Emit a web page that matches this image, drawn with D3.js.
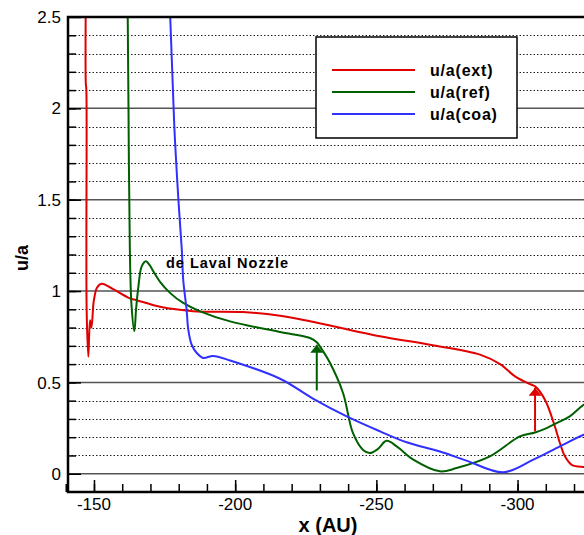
<!DOCTYPE html>
<html>
<head>
<meta charset="utf-8">
<script src="https://d3js.org/d3.v7.min.js"></script>
<style>
  body { margin: 0; background: #fff; }
  svg { display: block; font-family: 'Liberation Sans', Arial, Helvetica, sans-serif; }
  .minor { stroke: #222; stroke-width: 1; stroke-dasharray: 1.5,2; }
  .major { stroke: #555; stroke-width: 1.5; }
  .curve { fill: none; stroke-width: 2; }
</style>
</head>
<body>
<svg width="584" height="535"></svg>
<script>
var svg = d3.select('svg');

// u/a along the x axis (AU)
var extData = [
  [-147.1, 2.6], [-147.1, 2.14], [-147.3, 2.10], [-147.4, 0.90], [-148.0, 0.64],
  [-148.6, 0.84], [-149.1, 0.80], [-149.8, 0.93], [-150.2, 0.97], [-151.0, 1.017],
  [-152.7, 1.04], [-156.8, 1.01], [-162.7, 0.96], [-165.1, 0.95], [-173.4, 0.914],
  [-185.1, 0.89], [-202.8, 0.885], [-215.9, 0.865], [-226.5, 0.835], [-251.3, 0.752],
  [-269.0, 0.706], [-286.7, 0.652], [-293.8, 0.60], [-299.1, 0.533], [-304.4, 0.49],
  [-306.2, 0.478], [-309.7, 0.405], [-313.2, 0.26], [-315.0, 0.168], [-316.8, 0.095],
  [-319.2, 0.049], [-323.5, 0.037], [-330, 0.035]
];

var refData = [
  [-161.9, 2.6], [-162.2, 2.05], [-162.7, 1.23], [-163.3, 0.92], [-164.3, 0.78],
  [-164.9, 0.90], [-165.7, 1.02], [-166.9, 1.135], [-168.4, 1.163], [-169.8, 1.14],
  [-171.0, 1.108], [-173.4, 1.05], [-176.9, 0.99], [-181.6, 0.935], [-187.6, 0.889],
  [-198.2, 0.834], [-215.9, 0.776], [-226.5, 0.743], [-228.9, 0.72], [-230.0, 0.697],
  [-233.6, 0.606], [-238.2, 0.442], [-241.7, 0.223], [-245.3, 0.13], [-247.7, 0.113],
  [-250.5, 0.135], [-253.6, 0.18], [-257.2, 0.15], [-263.1, 0.077], [-272.5, 0.013],
  [-278.4, 0.031], [-290.2, 0.095], [-300.8, 0.204], [-306.2, 0.226], [-310.3, 0.25],
  [-314.0, 0.278], [-318.5, 0.314], [-323.5, 0.378], [-330, 0.43]
];

var coaData = [
  [-176.7, 2.6], [-177.0, 2.5], [-178.2, 2.0], [-178.7, 1.82], [-179.9, 1.50],
  [-181.1, 1.227], [-181.6, 1.062], [-182.8, 0.898], [-183.4, 0.789], [-184.6, 0.706],
  [-186.4, 0.661], [-188.7, 0.634], [-192.2, 0.645], [-198.2, 0.62], [-215.9, 0.52],
  [-227.7, 0.41], [-239.5, 0.314], [-251.3, 0.232], [-260.7, 0.172], [-272.5, 0.122],
  [-281.9, 0.072], [-294.9, 0.008], [-305.6, 0.077], [-315.0, 0.15], [-323.5, 0.214],
  [-330, 0.245]
];

var seriesNames = ['u/a(ext)', 'u/a(ref)', 'u/a(coa)'];
var seriesColors = ['#e00000', '#006000', '#3030ff'];

// arrows: [x, yFrom, yTo]
var arrowData = [[-306.2, 0.232, 0.47], [-228.9, 0.456, 0.706]];
var arrowColors = ['#e00000', '#006000'];

var xMajor = [-150, -200, -250, -300];
var xMinor = d3.range(-140, -331, -10);
var yMajor = [0, 0.5, 1, 1.5, 2, 2.5];
var yMinor = d3.range(1, 25).map(function(d) { return d / 10; });

var plot = {left: 68, top: 17, right: 600, bottom: 492};

var x = d3.scaleLinear().domain([-140.8, -329.2]).range([plot.left, plot.right]);
var y = d3.scaleLinear().domain([-0.1, 2.5]).range([plot.bottom, plot.top]);

svg.append('defs')
  .append('clipPath')
  .attr('id', 'plot-clip')
  .append('rect')
  .attr('x', plot.left)
  .attr('y', plot.top)
  .attr('width', plot.right - plot.left)
  .attr('height', plot.bottom - plot.top);

arrowColors.forEach(function(c, i) {
  svg.select('defs')
    .append('marker')
    .attr('id', 'arrow-' + i)
    .attr('viewBox', '0 0 10 10')
    .attr('refX', 10)
    .attr('refY', 5)
    .attr('markerUnits', 'userSpaceOnUse')
    .attr('markerWidth', 8)
    .attr('markerHeight', 13)
    .attr('orient', 'auto')
    .attr('preserveAspectRatio', 'none')
    .append('path')
    .attr('d', 'M0,0L10,5L0,10Z')
    .attr('fill', c);
});

/* ---
GRID
--- */
svg.append('g')
  .selectAll('line')
  .data(yMinor.filter(function(d) { return Math.round(d * 10) % 5 !== 0; }))
  .enter()
  .append('line')
  .attr('class', 'minor')
  .attr('x1', plot.left)
  .attr('x2', plot.right)
  .attr('y1', function(d) { return Math.round(y(d)) + 0.5; })
  .attr('y2', function(d) { return Math.round(y(d)) + 0.5; });

svg.append('g')
  .selectAll('line')
  .data(yMajor.slice(0, -1))
  .enter()
  .append('line')
  .attr('class', 'major')
  .attr('x1', plot.left)
  .attr('x2', plot.right)
  .attr('y1', function(d) { return y(d); })
  .attr('y2', function(d) { return y(d); });

/* ---
AXES
--- */
var yAxis = d3.axisRight(y).tickValues(yMajor).tickSize(13).tickFormat('');
var yAxisMinor = d3.axisRight(y).tickValues(yMinor).tickSize(8).tickFormat('');
var xAxis = d3.axisTop(x).tickValues(xMajor).tickSize(12).tickFormat('');
var xAxisMinor = d3.axisTop(x).tickValues(xMinor).tickSize(8).tickFormat('');

[yAxis, yAxisMinor].forEach(function(ax) {
  svg.append('g')
    .attr('transform', 'translate(' + plot.left + ',0)')
    .call(ax)
    .call(function(g) {
      g.select('.domain').remove();
      g.selectAll('line').attr('stroke', '#000').attr('stroke-width', 1.5);
    });
});

[xAxis, xAxisMinor].forEach(function(ax) {
  svg.append('g')
    .attr('transform', 'translate(0,' + plot.bottom + ')')
    .call(ax)
    .call(function(g) {
      g.select('.domain').remove();
      g.selectAll('line').attr('stroke', '#000').attr('stroke-width', 1.5);
    });
});

svg.append('g')
  .selectAll('text')
  .data(yMajor)
  .enter()
  .append('text')
  .attr('x', 61)
  .attr('y', function(d) { return y(d); })
  .attr('dy', '0.36em')
  .attr('text-anchor', 'end')
  .style('font-size', '17px')
  .text(function(d) { return d; });

svg.append('g')
  .selectAll('text')
  .data(xMajor)
  .enter()
  .append('text')
  .attr('x', function(d) { return x(d); })
  .attr('y', 510)
  .attr('text-anchor', 'middle')
  .style('font-size', '17px')
  .text(function(d) { return '-' + Math.abs(d); });

svg.append('text')
  .attr('x', 328)
  .attr('y', 532)
  .attr('text-anchor', 'middle')
  .style('font-size', '20px')
  .style('font-weight', 'bold')
  .text('x (AU)');

svg.append('text')
  .attr('transform', 'translate(28,258) rotate(-90)')
  .attr('text-anchor', 'middle')
  .style('font-size', '18px')
  .style('font-weight', 'bold')
  .text('u/a');

/* ---
CURVES
--- */
var line = d3.line()
  .x(function(d) { return x(d[0]); })
  .y(function(d) { return y(d[1]); })
  .curve(d3.curveCatmullRom.alpha(0.5));

var curves = svg.append('g').attr('clip-path', 'url(#plot-clip)');

[extData, refData, coaData].forEach(function(data, i) {
  curves.append('path')
    .datum(data)
    .attr('class', 'curve')
    .attr('stroke', seriesColors[i])
    .attr('d', line);
});

curves.selectAll('.arrow')
  .data(arrowData)
  .enter()
  .append('line')
  .attr('class', 'arrow')
  .attr('x1', function(d) { return x(d[0]); })
  .attr('x2', function(d) { return x(d[0]); })
  .attr('y1', function(d) { return y(d[1]); })
  .attr('y2', function(d) { return y(d[2]); })
  .attr('stroke', function(d, i) { return arrowColors[i]; })
  .attr('stroke-width', 2)
  .attr('marker-end', function(d, i) { return 'url(#arrow-' + i + ')'; });

svg.append('text')
  .attr('x', 166)
  .attr('y', 268)
  .style('font-size', '14.5px')
  .style('font-weight', 'bold')
  .style('letter-spacing', '1px')
  .text('de Laval Nozzle');

/* ---
FRAME
--- */
svg.append('path')
  .attr('d', 'M' + plot.right + ',' + plot.top + 'H' + plot.left + 'V' + plot.bottom + 'H' + plot.right)
  .attr('fill', 'none')
  .attr('stroke', '#000')
  .attr('stroke-width', 2.5);

/* ---
LEGEND
--- */
var legend = svg.append('g');

legend.append('rect')
  .attr('x', 316)
  .attr('y', 37)
  .attr('width', 201)
  .attr('height', 101)
  .attr('fill', '#fff')
  .attr('stroke', '#000')
  .attr('stroke-width', 1.5);

var legendY = d3.scalePoint().domain(seriesNames).range([70, 114]);

seriesNames.forEach(function(name, i) {
  legend.append('line')
    .attr('x1', 332)
    .attr('x2', 415)
    .attr('y1', legendY(name))
    .attr('y2', legendY(name))
    .attr('stroke', seriesColors[i])
    .attr('stroke-width', 2);

  legend.append('text')
    .attr('x', 430)
    .attr('y', legendY(name))
    .attr('dy', '0.35em')
    .style('font-size', '16px')
    .style('font-weight', 'bold')
    .style('letter-spacing', '0.8px')
    .text(name);
});
</script>
</body>
</html>
